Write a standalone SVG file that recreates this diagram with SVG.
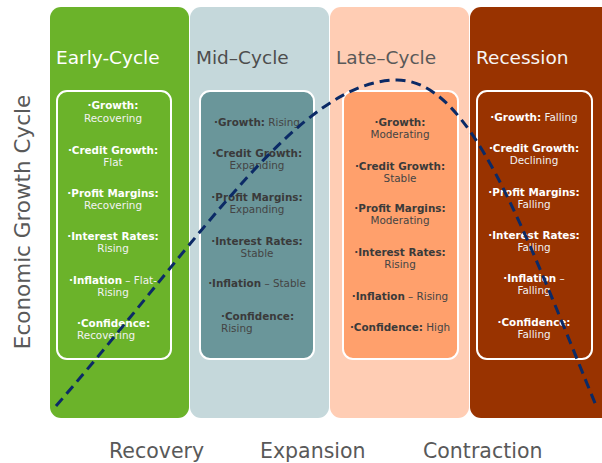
<svg xmlns="http://www.w3.org/2000/svg" width="602" height="463" viewBox="0 0 602 463">
<style>
.t{font-family:"DejaVu Sans",Verdana,sans-serif;font-size:10.4px;text-anchor:middle}
.s{font-family:"DejaVu Sans",Verdana,sans-serif;font-size:10.4px;text-anchor:start}
.b{font-weight:bold}
.title{font-family:"DejaVu Sans",Verdana,sans-serif;font-size:18.5px}
.lab{font-family:"DejaVu Sans",Verdana,sans-serif;font-size:20.5px;fill:#595959}
.w{fill:#FFFFFF}
.wv{fill:#F2F2F2}
.d{fill:#3A3A3A}
.dv{fill:#444444}
.inner{stroke:#FFFFFF;stroke-width:2}
</style>
<rect width="602" height="463" fill="#FFFFFF"/>
<g id="early-cycle">
<rect x="50" y="7" width="139" height="411" rx="11" fill="#6BB32A"/>
<text class="title w" x="56" y="64">Early-Cycle</text>
<rect class="inner" x="57" y="91" width="114" height="268" rx="10" fill="#6BB32A"/>
<text class="t" x="113" y="109"><tspan class="b w">·Growth:</tspan></text>
<text class="t wv" x="113" y="122">Recovering</text>
<text class="t" x="113" y="154"><tspan class="b w">·Credit Growth:</tspan></text>
<text class="t wv" x="113" y="166">Flat</text>
<text class="t" x="113" y="197"><tspan class="b w">·Profit Margins:</tspan></text>
<text class="t wv" x="113" y="209">Recovering</text>
<text class="t" x="113" y="240"><tspan class="b w">·Interest Rates:</tspan></text>
<text class="t wv" x="113" y="252">Rising</text>
<text class="t" x="113" y="284"><tspan class="b w">·Inflation</tspan><tspan class="wv"> – Flat-</tspan></text>
<text class="t wv" x="113" y="296">Rising</text>
<text class="s b w" x="77" y="327">·Confidence:</text>
<text class="s wv" x="77" y="339">Recovering</text>
</g>
<g id="mid-cycle">
<rect x="190" y="7" width="139" height="411" rx="11" fill="#C5D8DB"/>
<text class="title" x="196" y="64" fill="#4D4D4D">Mid–Cycle</text>
<rect class="inner" x="200" y="91" width="114" height="268" rx="10" fill="#6A969A"/>
<text class="t" x="257" y="126"><tspan class="b d">·Growth:</tspan><tspan class="dv"> Rising</tspan></text>
<text class="t b d" x="257" y="157">·Credit Growth:</text>
<text class="t dv" x="257" y="169">Expanding</text>
<text class="t b d" x="257" y="201">·Profit Margins:</text>
<text class="t dv" x="257" y="213">Expanding</text>
<text class="t b d" x="257" y="245">·Interest Rates:</text>
<text class="t dv" x="257" y="257">Stable</text>
<text class="t" x="257" y="287"><tspan class="b d">·Inflation</tspan><tspan class="dv"> – Stable</tspan></text>
<text class="s b d" x="221" y="320">·Confidence:</text>
<text class="s dv" x="221" y="332">Rising</text>
</g>
<g id="late-cycle">
<rect x="330" y="7" width="139" height="411" rx="11" fill="#FFCDB4"/>
<text class="title" x="336" y="64" fill="#595959">Late–Cycle</text>
<rect class="inner" x="343" y="91" width="115" height="268" rx="10" fill="#FFA06C"/>
<text class="t b d" x="400" y="126">·Growth:</text>
<text class="t dv" x="400" y="138">Moderating</text>
<text class="t b d" x="400" y="170">·Credit Growth:</text>
<text class="t dv" x="400" y="182">Stable</text>
<text class="t b d" x="400" y="212">·Profit Margins:</text>
<text class="t dv" x="400" y="224">Moderating</text>
<text class="t b d" x="400" y="256">·Interest Rates:</text>
<text class="t dv" x="400" y="268">Rising</text>
<text class="t" x="400" y="300"><tspan class="b d">·Inflation</tspan><tspan class="dv"> – Rising</tspan></text>
<text class="t" x="400" y="331"><tspan class="b d">·Confidence:</tspan><tspan class="dv"> High</tspan></text>
</g>
<g id="recession">
<rect x="470" y="7" width="150" height="411" rx="11" fill="#993300"/>
<text class="title" x="476" y="64" fill="#F5F5F5">Recession</text>
<rect class="inner" x="477" y="91" width="115" height="268" rx="10" fill="#993300"/>
<text class="t" x="534" y="121"><tspan class="b w">·Growth:</tspan><tspan class="wv"> Falling</tspan></text>
<text class="t b w" x="534" y="152">·Credit Growth:</text>
<text class="t wv" x="534" y="164">Declining</text>
<text class="t b w" x="534" y="196">·Profit Margins:</text>
<text class="t wv" x="534" y="208">Falling</text>
<text class="t b w" x="534" y="239">·Interest Rates:</text>
<text class="t wv" x="534" y="251">Falling</text>
<text class="t" x="534" y="282"><tspan class="b w">·Inflation</tspan><tspan class="wv"> –</tspan></text>
<text class="t wv" x="534" y="294">Falling</text>
<text class="t b w" x="534" y="326">·Confidence:</text>
<text class="t wv" x="534" y="338">Falling</text>
</g>
<g id="connectors">
<path d="M56,406 C200,240 300,80 397,80 C470,80 520,220 597,408" fill="none" stroke="#0B2A66" stroke-width="3" stroke-dasharray="10,6"/>
</g>
<g id="labels">
<text class="lab" x="0" y="0" text-anchor="middle" transform="translate(30,222) rotate(-90)" style="font-size:21.5px">Economic Growth Cycle</text>
<text class="lab" x="109" y="458">Recovery</text>
<text class="lab" x="260" y="458">Expansion</text>
<text class="lab" x="423" y="458">Contraction</text>
</g>
</svg>
